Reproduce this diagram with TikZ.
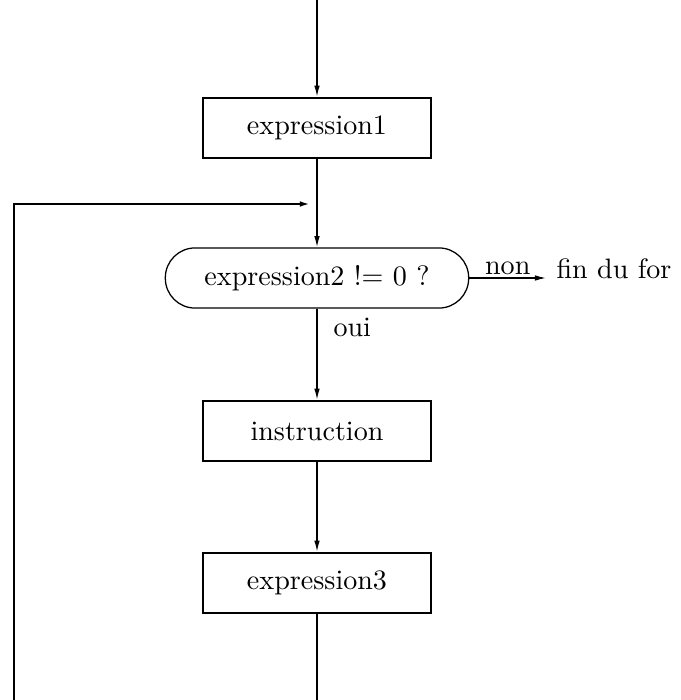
\documentclass[tikz,border=0pt]{standalone}
\usetikzlibrary{arrows.meta}
\tikzset{
  fleche/.style={-{Latex[length=4pt,width=2pt]}, line width=0.5pt},
  boite/.style={draw, line width=0.8pt, minimum width=81pt, minimum height=21.4pt},
  test/.style={draw, rounded corners=10.6pt, line width=0.45pt, minimum width=108pt, minimum height=21.4pt},
}
\begin{document}
\begin{tikzpicture}[x=0.356pt,y=-0.356pt]
\useasboundingbox (0,0) rectangle (680,700);
\coordinate (haut) at (317,0);
\node[boite] (e1) at (317,128) {expression1};
\node[test] (e2) at (317,278) {expression2 !$=$ 0 ?};
\node[boite] (ins) at (317,431) {instruction};
\node[boite] (e3) at (317,583) {expression3};
\node[anchor=base west, inner sep=0pt] (fin) at (556,278) {fin du for};
\node[anchor=north west, inner sep=0pt] (oui) at (333,317) {oui};
\coordinate (bas) at (317,700);
\coordinate (gbas) at (14,700);
\coordinate (ghaut) at (14,204);
\coordinate (retour) at (311,204);
\path[draw,fleche] (haut) -- (e1);
\path[draw,fleche] (e1) -- (e2);
\path[draw,fleche] (e2.east) -- node[above, inner sep=1pt] {non} ([xshift=-3.5pt]fin.west |- e2.east);
\path[draw,fleche] (e2) -- (ins);
\path[draw,fleche] (ins) -- (e3);
\path[draw,line width=0.8pt] (e3) -- (bas);
\path[draw,fleche,line width=0.9pt] (gbas) -- (ghaut) -- (retour);
\end{tikzpicture}
\end{document}
